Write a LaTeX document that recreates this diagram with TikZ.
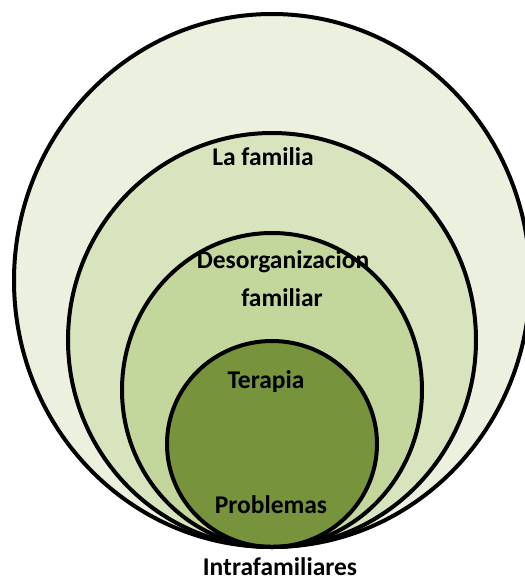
\documentclass[tikz,border=0pt]{standalone}
\usepackage{fontspec}
\setmainfont{Carlito}
\usepackage{tikz}
\usepackage{xcolor}
\definecolor{verdeA}{HTML}{EBF1DE}
\definecolor{verdeB}{HTML}{D7E4BD}
\definecolor{verdeC}{HTML}{C3D69B}
\definecolor{verdeD}{HTML}{77933C}

\begin{document}
\begin{tikzpicture}[x=1pt, y=-1pt,
    lbl/.style={font=\bfseries\fontsize{25.5}{30}\selectfont, inner sep=0pt}]
    \useasboundingbox (0,0) rectangle (525,579);
    \foreach \cy/\rx/\ry/\col in {280.5/258/266.5/verdeA, 340/204/207/verdeB, 390/150/157/verdeC, 444/105/103/verdeD}
      \fill[\col] (272,\cy) ellipse [x radius=\rx, y radius=\ry];
    \node[lbl] (familia) at (263,157) {La familia};
    \node[lbl] (desorg) at (283,262) {Desorganizacion};
    \node[lbl] (familiar) at (282,298) {familiar};
    \node[lbl] (terapia) at (266,382) {Terapia};
    \node[lbl] (problemas) at (271,505) {Problemas};
    \node[lbl] (intra) at (280,567) {Intrafamiliares};
    \foreach \cy/\rx/\ry in {280.5/258/266.5, 340/204/207, 390/150/157, 444/105/103}
      \draw[line width=4pt] (272,\cy) ellipse [x radius=\rx, y radius=\ry];
\end{tikzpicture}
\end{document}
